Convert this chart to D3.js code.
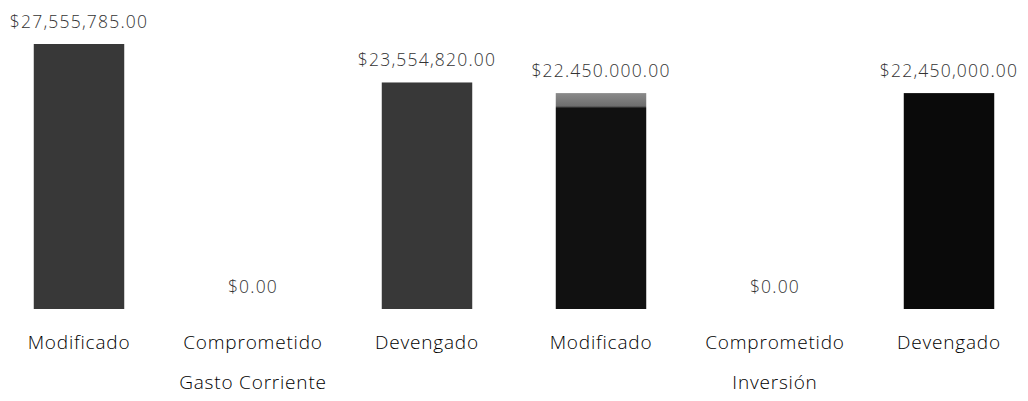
<!DOCTYPE html>
<html>
<head>
<meta charset="utf-8">
<script src="https://cdn.jsdelivr.net/npm/d3@7"></script>
<style>
  body { margin: 0; background: #fff; }
  svg text { font-family: "Open Sans", "DejaVu Sans", sans-serif; }
</style>
</head>
<body>
<div id="chart"></div>
<script>
// Chart data
const categories = ["Modificado", "Comprometido", "Devengado", "Modificado", "Comprometido", "Devengado"];
const groups = ["Gasto Corriente", "Gasto Corriente", "Gasto Corriente", "Inversión", "Inversión", "Inversión"];
const values = [27555785, 0, 23554820, 22450000, 0, 22450000];
const valueLabels = ["$27,555,785.00", "$0.00", "$23,554,820.00", "$22.450.000.00", "$0.00", "$22,450,000.00"];
const groupNames = ["Gasto Corriente", "Inversión"];

const width = 1028, height = 401;
const svg = d3.select("#chart")
    .append("svg")
    .attr("width", width)
    .attr("height", height);

const defs = svg.append("defs");
// lighter band on top of the first Inversión bar
const grad = defs.append("linearGradient")
    .attr("id", "topband")
    .attr("x1", 0).attr("y1", 0).attr("x2", 0).attr("y2", 1);
grad.append("stop").attr("offset", "0").attr("stop-color", "#8a8a8a");
grad.append("stop").attr("offset", "0.06").attr("stop-color", "#6e6e6e");
grad.append("stop").attr("offset", "0.07").attr("stop-color", "#111");
grad.append("stop").attr("offset", "1").attr("stop-color", "#111");

const x = d3.scaleBand()
    .domain(d3.range(categories.length))
    .range([-8, 1036])
    .padding(0);

const barW = x.bandwidth() * 0.52;
const base = 309;

const y = d3.scaleLinear()
    .domain([0, d3.max(values)])
    .range([base, 44]);

const barFill = i => groups[i] === "Gasto Corriente" ? "#383838" : (i === 3 ? "url(#topband)" : "#0a0a0a");

svg.selectAll("rect.bar")
    .data(values)
    .enter()
    .append("rect")
    .attr("class", "bar")
    .attr("x", (d, i) => x(i) + (x.bandwidth() - barW) / 2)
    .attr("y", d => y(d))
    .attr("width", barW)
    .attr("height", d => base - y(d))
    .attr("fill", (d, i) => barFill(i));

// value labels
svg.selectAll("text.value")
    .data(values)
    .enter()
    .append("text")
    .attr("class", "value")
    .attr("x", (d, i) => x(i) + x.bandwidth() / 2)
    .attr("y", d => y(d) - 16)
    .attr("text-anchor", "middle")
    .attr("font-size", 17.5)
    .attr("font-weight", 300)
    .attr("letter-spacing", 1.2)
    .attr("fill", "#333")
    .text((d, i) => valueLabels[i]);

// category labels
svg.selectAll("text.cat")
    .data(categories)
    .enter()
    .append("text")
    .attr("class", "cat")
    .attr("x", (d, i) => x(i) + x.bandwidth() / 2)
    .attr("y", 349)
    .attr("text-anchor", "middle")
    .attr("font-size", 19)
    .attr("font-weight", 300)
    .attr("letter-spacing", 0.8)
    .attr("fill", "#000")
    .text(d => d);

// group labels, centred under each group
svg.selectAll("text.group")
    .data(groupNames)
    .enter()
    .append("text")
    .attr("class", "group")
    .attr("x", g => {
        const idx = d3.range(groups.length).filter(i => groups[i] === g);
        return x(idx[1]) + x.bandwidth() / 2;
    })
    .attr("y", 389)
    .attr("text-anchor", "middle")
    .attr("font-size", 19)
    .attr("font-weight", 300)
    .attr("letter-spacing", 0.8)
    .attr("fill", "#000")
    .text(d => d);
</script>
</body>
</html>
